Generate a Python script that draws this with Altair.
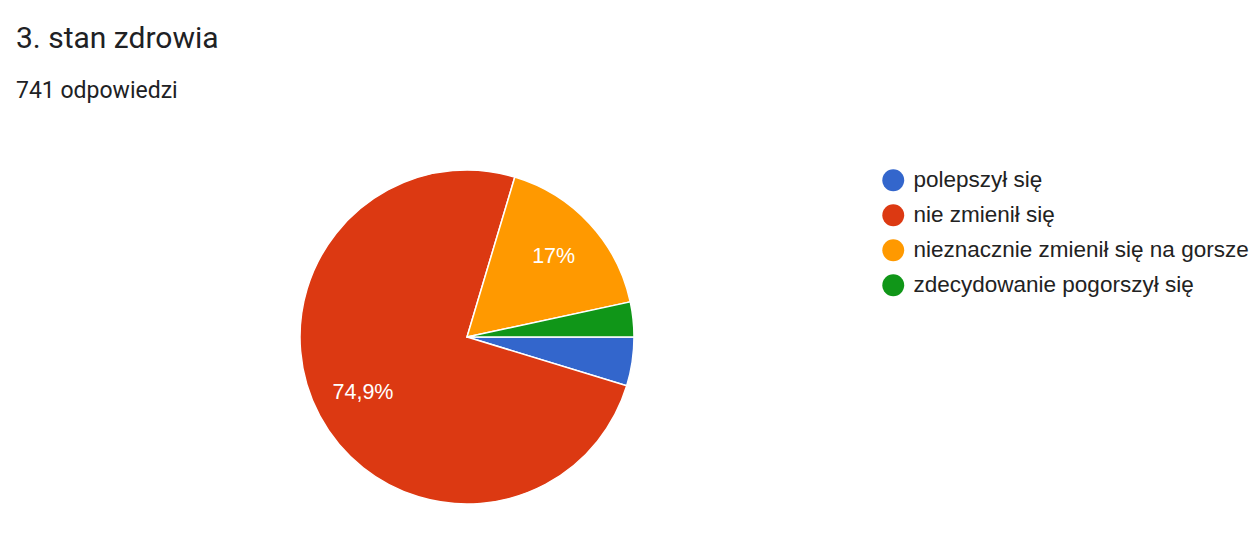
import math
import altair as alt
import pandas as pd

# Survey answers for question 3
categories = ["polepszył się", "nie zmienił się", "nieznacznie zmienił się na gorsze", "zdecydowanie pogorszył się"]
counts = [35, 555, 126, 25]
colors = ["#3366cc", "#dc3912", "#ff9900", "#109618"]
total = sum(counts)


def pct_label(c):
    p = 100 * c / total
    if p < 6:
        return ""
    s = f"{p:.1f}".rstrip("0").rstrip(".").replace(".", ",")
    return s + "%"


df = pd.DataFrame({
    "answer": categories,
    "count": counts,
    "order": list(range(len(categories))),
    "label": [pct_label(c) for c in counts],
})

cx, cy, r = 467, 337, 167

theta = alt.Theta("count:Q", stack=True,
                  scale=alt.Scale(range=[math.pi / 2, math.pi / 2 + 2 * math.pi]))

pie = alt.Chart(df).mark_arc(stroke="white", strokeWidth=1.5, radius=r).encode(
    theta=theta,
    order=alt.Order("order:Q"),
    x=alt.value(cx),
    y=alt.value(cy),
    color=alt.Color(
        "answer:N",
        sort=categories,
        scale=alt.Scale(domain=categories, range=colors),
        legend=alt.Legend(
            title=None,
            orient="none",
            legendX=882,
            legendY=169,
            symbolType="circle",
            symbolSize=480,
            symbolStrokeWidth=0,
            labelFont="Liberation Sans",
            labelFontSize=22.5,
            labelColor="#222222",
            labelOffset=9,
            rowPadding=12,
            labelLimit=500,
        ),
    ),
)

labels = alt.Chart(df).mark_text(
    radius=118, font="Liberation Sans", fontSize=21.5, color="white",
    baseline="middle", align="center",
).encode(
    theta=theta,
    order=alt.Order("order:Q"),
    x=alt.value(cx),
    y=alt.value(cy),
    text="label:N",
)

title = alt.Chart(pd.DataFrame({"t": ["3. stan zdrowia"]})).mark_text(
    font="Roboto", fontSize=30, color="#202124", align="left", baseline="alphabetic",
).encode(x=alt.value(16), y=alt.value(48), text="t:N")

subtitle = alt.Chart(pd.DataFrame({"t": [f"{total} odpowiedzi"]})).mark_text(
    font="Roboto", fontSize=23, color="#202124", align="left", baseline="alphabetic",
).encode(x=alt.value(16), y=alt.value(98), text="t:N")

chart = alt.layer(pie, labels, title, subtitle).properties(
    width=1258, height=550, padding=0,
    autosize=alt.AutoSizeParams(type="none"),
    background="white",
).configure_view(stroke=None)

chart.save("out.html", embed_options={"renderer": "svg", "actions": False})
